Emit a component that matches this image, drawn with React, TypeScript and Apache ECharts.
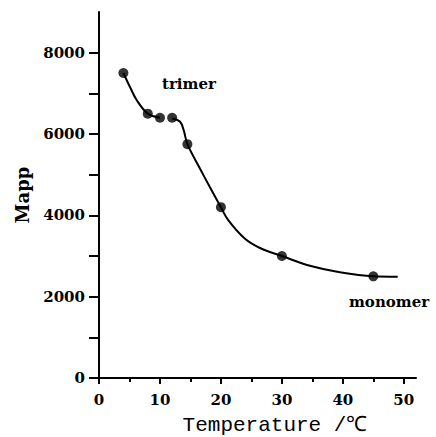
import React, { useEffect, useRef } from "react";
import * as echarts from "echarts";

// Measured points: temperature (°C) vs apparent molecular weight
const temperature = [4, 8, 10, 12, 14.5, 20, 30, 45];
const mapp = [7500, 6500, 6400, 6400, 5750, 4200, 3000, 2500];

// Hand-drawn guide curve, traced in two pieces (trimer side, then the transition to monomer)
const curveLow: [number, number][] = [
  [4, 7500], [5.1, 7150], [6.2, 6830], [8, 6500], [10, 6400],
];
const curveHigh: [number, number][] = [
  [12, 6380], [13.3, 6300], [13.9, 6090], [14.5, 5750], [16.6, 5140],
  [18.2, 4690], [20, 4200], [21.2, 3880], [23.9, 3430], [26.5, 3190],
  [30, 3000], [34.6, 2760], [39.5, 2600], [45, 2500], [49, 2490],
];

const xMajor = [0, 10, 20, 30, 40, 50];
const xMinor = [5, 15, 25, 35, 45];
const yTicks = [0, 1000, 2000, 3000, 4000, 5000, 6000, 7000, 8000];
const yLabels = [0, 2000, 4000, 6000, 8000];

const SERIF = "'DejaVu Serif', serif";

export default function App() {
  const ref = useRef<HTMLDivElement>(null);

  useEffect(() => {
    if (!ref.current) return;
    document.body.style.margin = "0";
    const chart = echarts.init(ref.current, undefined, { renderer: "svg" });
    const black = "#000";
    const lineStyle = { color: black, width: 2 };
    const labelStyle = {
      color: black,
      fontFamily: SERIF,
      fontWeight: "bold" as const,
      fontSize: 15,
      formatter: (v: number) => String(v),
    };
    const curveStyle = {
      type: "line" as const,
      smooth: 0.35,
      showSymbol: false,
      lineStyle: { color: black, width: 2 },
      z: 2,
    };

    chart.setOption({
      animation: false,
      backgroundColor: "#fff",
      grid: { left: 99, right: 20, top: 12, bottom: 59, containLabel: false },
      xAxis: [
        {
          type: "value",
          min: 0,
          max: 52,
          interval: 10,
          axisLine: { show: true, onZero: false, lineStyle },
          axisTick: { show: true, length: 6, customValues: xMajor, lineStyle },
          axisLabel: { ...labelStyle, margin: 14, customValues: xMajor },
          splitLine: { show: false },
        },
        {
          type: "value",
          min: 0,
          max: 52,
          interval: 10,
          position: "bottom",
          axisLine: { show: false },
          axisTick: { show: true, length: 4, customValues: xMinor, lineStyle },
          axisLabel: { show: false },
          splitLine: { show: false },
        },
      ],
      yAxis: {
        type: "value",
        min: 0,
        max: 9000,
        interval: 1000,
        name: "Mapp",
        nameLocation: "middle",
        nameRotate: 90,
        nameGap: 68,
        nameTextStyle: {
          color: black,
          fontFamily: SERIF,
          fontWeight: "bold",
          fontSize: 18,
        },
        axisLine: { show: true, onZero: false, lineStyle },
        axisTick: { show: true, length: 10, customValues: yTicks, lineStyle },
        axisLabel: { ...labelStyle, margin: 14, customValues: yLabels },
        splitLine: { show: false },
      },
      series: [
        { ...curveStyle, data: curveLow },
        { ...curveStyle, data: curveHigh },
        {
          type: "scatter",
          data: temperature.map((t, i) => [t, mapp[i]]),
          symbol: "circle",
          symbolSize: 10,
          itemStyle: { color: black },
          z: 3,
        },
      ],
      graphic: [
        {
          type: "text",
          left: 162,
          top: 76,
          style: {
            text: "trimer",
            fill: black,
            font: `bold 15px ${SERIF}`,
          },
        },
        {
          type: "text",
          left: 349,
          top: 294,
          style: {
            text: "monomer",
            fill: black,
            font: `bold 15px ${SERIF}`,
          },
        },
        {
          type: "text",
          x: 275,
          y: 414,
          style: {
            text: "Temperature /℃",
            fill: black,
            font: "21px 'Liberation Mono', monospace",
            lineHeight: 22,
            align: "center",
            verticalAlign: "top",
          },
        },
      ],
    });

    return () => chart.dispose();
  }, []);

  return <div ref={ref} style={{ width: 436, height: 437 }} />;
}
